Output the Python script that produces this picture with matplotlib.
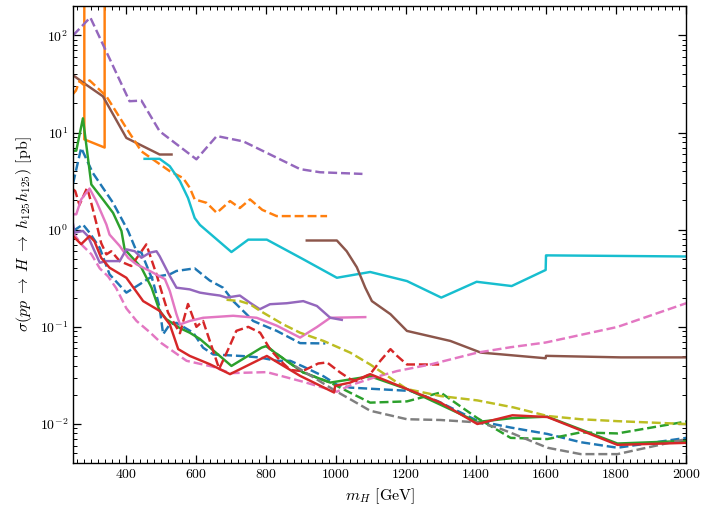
import matplotlib
matplotlib.use("Agg")
import matplotlib.pyplot as plt
from matplotlib.ticker import MultipleLocator

plt.rcParams['font.family'] = 'serif'
plt.rcParams['font.serif'] = ['cmr10', 'DejaVu Serif']
plt.rcParams['mathtext.fontset'] = 'cm'
plt.rcParams['axes.formatter.use_mathtext'] = True
plt.rcParams['axes.unicode_minus'] = False

# ---- data: (m_H [GeV], sigma [pb]) ----
orange_solid_m = [282, 282, 340, 340]
orange_solid_s = [1000, 8.5, 7.0, 1000]

purple_dash_m = [250, 299, 411, 445, 497, 602, 660, 736, 898, 955, 1076]
purple_dash_s = [100, 153, 21, 21.3, 10.3, 5.3, 9.2, 8.1, 4.2, 3.9, 3.75]

brown_up_m = [250, 287, 335, 402, 497, 531]
brown_up_s = [38.8, 31.1, 23.6, 8.8, 5.94, 5.94]

orange_dash_m = [250, 258, 268, 280, 297, 345, 402, 445, 526, 564, 583, 597, 631, 660, 698, 726, 755, 790, 831, 975]
orange_dash_s = [25, 27, 33.7, 31, 34.4, 23.6, 11.1, 6.4, 4.0, 3.4, 2.7, 2.05, 1.89, 1.49, 1.97, 1.67, 2.05, 1.6, 1.38, 1.38]

cyan_m = [454, 497, 526, 555, 578, 597, 612, 702, 750, 803, 907, 1003, 1098, 1203, 1301, 1402, 1502, 1599, 1600, 1604, 2000]
cyan_s = [5.36, 5.36, 4.5, 3.16, 2.12, 1.32, 1.12, 0.589, 0.79, 0.79, 0.496, 0.32, 0.367, 0.296, 0.2, 0.291, 0.263, 0.385, 0.544, 0.544, 0.53]

brown_low_m = [917, 1003, 1031, 1060, 1084, 1103, 1156, 1203, 1327, 1414, 1470, 1599, 1600, 1814, 2000]
brown_low_s = [0.774, 0.774, 0.6, 0.41, 0.253, 0.184, 0.135, 0.0908, 0.0716, 0.0543, 0.0522, 0.0475, 0.0503, 0.0485, 0.0485]

blue_a_m = [250, 273, 306, 364, 407, 431, 445, 478, 497, 507, 526, 545, 593, 621, 650, 736, 783, 831, 870, 907, 965, 1003, 1041,
            1213, 1289, 1404, 1499, 1604, 1699, 1804, 2000]
blue_a_s = [3.0, 6.95, 3.85, 1.89, 0.97, 0.6, 0.58, 0.296, 0.157, 0.084, 0.106, 0.11, 0.087, 0.061, 0.052, 0.050, 0.0484, 0.0447, 0.0447, 0.039, 0.031, 0.0254, 0.0237,
            0.0219, 0.0173, 0.0108, 0.0092, 0.0079, 0.0065, 0.0057, 0.0072]

blue_b_m = [250, 278, 297, 326, 354, 402, 440, 469, 526, 545, 597, 640, 678, 707, 745, 764, 812, 831, 898, 970]
blue_b_s = [0.97, 1.13, 0.93, 0.65, 0.347, 0.225, 0.274, 0.32, 0.347, 0.376, 0.4, 0.3, 0.253, 0.184, 0.135, 0.115, 0.097, 0.091, 0.068, 0.0675]

green_m = [250, 259, 278, 302, 335, 364, 388, 397, 445, 474, 497, 516, 555, 583, 612, 702, 788, 803, 826, 907, 984, 1098, 1203,
           1404, 1504, 1604, 1804, 2000]
green_s = [6.5, 6.5, 14, 2.92, 2.05, 1.49, 0.97, 0.63, 0.406, 0.253, 0.146, 0.12, 0.097, 0.087, 0.075, 0.0396, 0.0611, 0.0637, 0.0543, 0.0339, 0.0267, 0.031, 0.0229,
           0.0105, 0.0115, 0.0119, 0.0063, 0.0067]

green_dash_m = [800, 826, 907, 984, 1041, 1098, 1203, 1299, 1404, 1499, 1604, 1699, 1804, 2000]
green_dash_s = [0.0637, 0.0543, 0.0339, 0.0267, 0.021, 0.0166, 0.0171, 0.0211, 0.0115, 0.0072, 0.0070, 0.0082, 0.0080, 0.0106]

red_dash_m = [250, 256, 268, 290, 300, 316, 330, 345, 359, 383, 416, 459, 488, 502, 521, 555, 578, 602, 621, 640, 667, 693, 716,
              750, 784, 812, 841, 870, 905, 950, 975, 1012, 1041, 1060, 1098, 1127, 1156, 1175, 1203, 1295]
red_dash_s = [2.6, 2.5, 1.8, 2.7, 2.0, 1.18, 0.73, 0.557, 0.6, 0.475, 0.423, 0.706, 0.347, 0.234, 0.14, 0.086, 0.172, 0.1, 0.115, 0.072, 0.037, 0.059, 0.091,
              0.1, 0.087, 0.059, 0.045, 0.036, 0.035, 0.042, 0.043, 0.034, 0.029, 0.0278, 0.0326, 0.0447, 0.059, 0.0502, 0.041, 0.041]

pink_m = [250, 259, 273, 297, 316, 345, 354, 383, 407, 431, 469, 512, 526, 545, 555, 583, 621, 707, 774, 831, 898, 946, 984, 1084]
pink_s = [1.44, 1.44, 2.05, 2.65, 1.97, 1.13, 0.89, 0.68, 0.514, 0.44, 0.376, 0.31, 0.234, 0.135, 0.106, 0.115, 0.124, 0.13, 0.124, 0.103, 0.0775, 0.0995, 0.124, 0.126]

pink_dash_m = [250, 278, 302, 326, 350, 373, 402, 431, 469, 502, 574, 650, 698, 803, 907, 1003, 1041, 1108, 1175, 1270, 1404, 1499, 1599, 1804, 2000]
pink_dash_s = [0.92, 0.68, 0.56, 0.4, 0.33, 0.25, 0.155, 0.115, 0.088, 0.068, 0.0447, 0.0388, 0.0334, 0.0342, 0.0272, 0.0215, 0.025, 0.03, 0.0351, 0.041, 0.0543, 0.0617, 0.069, 0.0998, 0.175]

purple_m = [250, 254, 278, 292, 326, 345, 383, 402, 426, 445, 469, 488, 497, 526, 545, 583, 612, 640, 669, 688, 726, 755, 783, 812, 860, 907, 946, 984, 1017]
purple_s = [1.13, 0.93, 0.97, 0.86, 0.457, 0.475, 0.475, 0.628, 0.6, 0.514, 0.58, 0.6, 0.534, 0.334, 0.253, 0.243, 0.225, 0.217, 0.21, 0.2, 0.21, 0.177, 0.152, 0.171, 0.175, 0.184, 0.164, 0.124, 0.118]

olive_m = [688, 726, 755, 784, 850, 898, 965, 1041, 1098, 1203, 1299, 1404, 1508, 1604, 1699, 1804, 2000]
olive_s = [0.19, 0.184, 0.171, 0.146, 0.106, 0.087, 0.0716, 0.0543, 0.041, 0.0229, 0.0194, 0.0175, 0.0148, 0.0121, 0.0112, 0.0107, 0.0100]

gray_m = [883, 1003, 1041, 1098, 1203, 1299, 1404, 1461, 1508, 1604, 1699, 1804, 2000]
gray_s = [0.0396, 0.0215, 0.018, 0.0137, 0.0112, 0.011, 0.0104, 0.0092, 0.0079, 0.0057, 0.0049, 0.0049, 0.0070]

red_m = [250, 254, 273, 297, 311, 330, 354, 402, 450, 497, 526, 550, 583, 640, 698, 803, 898, 995, 998, 1041, 1098, 1203, 1299,
         1404, 1504, 1604, 1804, 2000]
red_s = [0.86, 0.83, 0.71, 0.86, 0.76, 0.514, 0.406, 0.32, 0.184, 0.146, 0.106, 0.059, 0.0502, 0.0413, 0.0326, 0.0502, 0.0313, 0.0211, 0.0247, 0.0267, 0.0326, 0.0229, 0.0166,
         0.0100, 0.0123, 0.0118, 0.0061, 0.0064]

# ---- figure ----
fig, ax = plt.subplots(figsize=(7.03, 5.09), dpi=100)
fig.subplots_adjust(left=0.104, right=0.976, top=0.988, bottom=0.091)

lw = 1.75
ax.plot(orange_solid_m, orange_solid_s, color='#ff7f0e', lw=lw)
ax.plot(purple_dash_m, purple_dash_s, color='#9467bd', lw=lw, ls='--')
ax.plot(brown_up_m, brown_up_s, color='#8c564b', lw=lw)
ax.plot(orange_dash_m, orange_dash_s, color='#ff7f0e', lw=lw, ls='--')
ax.plot(cyan_m, cyan_s, color='#17becf', lw=lw)
ax.plot(brown_low_m, brown_low_s, color='#8c564b', lw=lw)
ax.plot(blue_a_m, blue_a_s, color='#1f77b4', lw=lw, ls='--')
ax.plot(blue_b_m, blue_b_s, color='#1f77b4', lw=lw, ls='--')
ax.plot(green_m, green_s, color='#2ca02c', lw=lw)
ax.plot(green_dash_m, green_dash_s, color='#2ca02c', lw=lw, ls='--')
ax.plot(red_dash_m, red_dash_s, color='#d62728', lw=lw, ls='--')
ax.plot(pink_m, pink_s, color='#e377c2', lw=lw)
ax.plot(pink_dash_m, pink_dash_s, color='#e377c2', lw=lw, ls='--')
ax.plot(purple_m, purple_s, color='#9467bd', lw=lw)
ax.plot(olive_m, olive_s, color='#bcbd22', lw=lw, ls='--')
ax.plot(gray_m, gray_s, color='#7f7f7f', lw=lw, ls='--')
ax.plot(red_m, red_s, color='#d62728', lw=lw)

ax.set_yscale('log')
ax.set_xlim(250, 2000)
ax.set_ylim(0.004, 200)
ax.xaxis.set_major_locator(MultipleLocator(200))
ax.xaxis.set_minor_locator(MultipleLocator(20))
ax.tick_params(which='both', direction='in', top=True, right=True, labelsize=10)
ax.tick_params(which='major', length=6, width=0.9)
ax.tick_params(which='minor', length=3, width=0.7)
for sp in ax.spines.values():
    sp.set_linewidth(1.0)

ax.set_xlabel(r'$m_H$ [GeV]', fontsize=11.5)
ax.set_ylabel(r'$\sigma(pp \;\rightarrow\; H \;\rightarrow\; h_{125} h_{125})$ [pb]', fontsize=11.5)

fig.savefig('out.png', dpi=100)
